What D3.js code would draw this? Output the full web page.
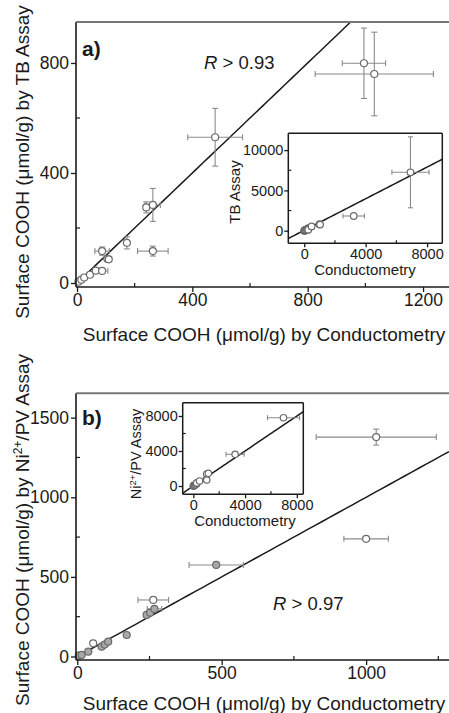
<!DOCTYPE html>
<html><head><meta charset="utf-8">
<script src="https://cdn.jsdelivr.net/npm/d3@7"></script>
<style>
html,body{margin:0;padding:0;background:#fff;}
svg{display:block;font-family:"Liberation Sans",Arial,sans-serif;}
</style></head>
<body>
<svg id="c" width="449" height="713"></svg>
<script>
// ---------- DATA ----------
// Panel a: conductometry (x) vs TB assay (y), µmol/g
const aX    = [5, 15, 25, 45, 65, 87, 87, 105, 110, 173, 240, 263, 263, 479, 995, 1031];
const aY    = [5, 12, 20, 30, 45, 44, 116, 88, 86, 146, 275, 284, 116, 530, 799, 760];
const aXErr = [0, 0, 0, 0, 0, 20, 25, 8, 10, 0, 0, 26, 53, 95, 75, 205];
const aYErr = [0, 0, 0, 0, 0, 0, 15, 6, 6, 22, 20, 60, 18, 105, 128, 152];
// inset a extra (large) samples
const aInsX    = [3222, 6917];
const aInsY    = [1824, 7245];
const aInsXErr = [700, 1210];
const aInsYErr = [0, 4400];
const aFitSlope = 1.0, aFitIntercept = 0;
const aInsFitSlope = 0.98, aInsFitIntercept = 50;

// Panel b: conductometry (x) vs Ni2+/PV assay (y)
const bX    = [5, 15, 38, 55, 84, 95, 107, 171, 240, 252, 267, 263, 481, 1000, 1035];
const bY    = [5, 10, 30, 83, 62, 75, 93, 135, 261, 275, 299, 355, 575, 739, 1378];
const bXErr = [0, 0, 0, 0, 0, 0, 0, 0, 0, 0, 25, 53, 94, 77, 208];
const bYErr = [0, 0, 0, 0, 0, 0, 0, 0, 0, 0, 0, 0, 0, 0, 50];
const bMarker = ["filled","filled","filled","open","filled","filled","filled","filled","filled","filled","filled","open","filled","open","open"];
const bInsX    = [1040, 1160, 3230, 6970];
const bInsY    = [686, 1451, 3623, 7806];
const bInsXErr = [0, 0, 700, 1240];
const bFitSlope = 1.0, bFitIntercept = 0;

// tick labels
const aXTicks = [0, 400, 800, 1200], aXMinor = [200, 600, 1000];
const aYTicks = [0, 400, 800], aYMinor = [200, 600];
const aInsXTicks = [0, 4000, 8000], aInsXMinor = [2000, 6000];
const aInsYTicks = [0, 5000, 10000], aInsYMinor = [2500, 7500];
const bXTicks = [0, 500, 1000], bXMinor = [250, 750, 1250];
const bYTicks = [0, 500, 1000, 1500], bYMinor = [250, 750, 1250];
const bInsXTicks = [0, 4000, 8000], bInsXMinor = [2000, 6000];
const bInsYTicks = [0, 4000, 8000], bInsYMinor = [2000, 6000];

// ---------- DRAW ----------
const svg = d3.select("#c");
svg.append("rect").attr("width",449).attr("height",713).attr("fill","#fff");
const AX = "#1a1a1a", EB = "#8a8a8a", PT = "#6a6a6a";

function axes(g, x, y, o) {
  const [x0, x1] = x.range(), [y0, y1] = y.range();
  const la = d3.axisLeft(y).tickValues(o.yt).tickSize(o.tl).tickPadding(o.pad).tickFormat(d3.format("d"));
  const ba = d3.axisBottom(x).tickValues(o.xt).tickSize(o.tl).tickPadding(o.pad).tickFormat(d3.format("d"));
  const gl = g.append("g").attr("transform",`translate(${x0},0)`).call(la);
  const gb = g.append("g").attr("transform",`translate(0,${y0})`).call(ba);
  [gl, gb].forEach(a => {
    a.select(".domain").remove();
    a.selectAll("line").attr("stroke",AX).attr("stroke-width",1.3);
    a.selectAll("text").attr("fill",AX).attr("font-size",o.fs).attr("font-family","Liberation Sans, Arial, sans-serif");
  });
  g.append("g").selectAll("line").data(o.ym).join("line")
    .attr("x1",x0).attr("x2",x0+o.ml).attr("y1",d=>y(d)).attr("y2",d=>y(d))
    .attr("stroke",AX).attr("stroke-width",1.2);
  g.append("g").selectAll("line").data(o.xm).join("line")
    .attr("x1",d=>x(d)).attr("x2",d=>x(d)).attr("y1",y0).attr("y2",y0-o.ml)
    .attr("stroke",AX).attr("stroke-width",1.2);
  g.append("line").attr("x1",x0).attr("x2",x0).attr("y1",y0).attr("y2",y1).attr("stroke",AX).attr("stroke-width",o.lw);
  g.append("line").attr("x1",x0).attr("x2",x1).attr("y1",y0).attr("y2",y0).attr("stroke",AX).attr("stroke-width",o.lw);
  if (o.box) {
    g.append("line").attr("x1",x1).attr("x2",x1).attr("y1",y0).attr("y2",y1).attr("stroke",AX).attr("stroke-width",o.lw);
    g.append("line").attr("x1",x0).attr("x2",x1).attr("y1",y1).attr("y2",y1).attr("stroke",AX).attr("stroke-width",o.lw);
  } else {
    g.append("line").attr("x1",x0).attr("x2",x1).attr("y1",y1).attr("y2",y1).attr("stroke","#777").attr("stroke-width",2);
  }
}

function fitLine(g, x, y, slope, icpt, clipId) {
  const [xa, xb] = x.domain();
  const pts = d3.range(0, 51).map(i => xa + (xb - xa) * i / 50).map(v => [v, slope * v + icpt]);
  g.append("path").datum(pts).attr("clip-path",`url(#${clipId})`)
    .attr("d", d3.line().x(d=>x(d[0])).y(d=>y(d[1])))
    .attr("fill","none").attr("stroke",AX).attr("stroke-width",1.5);
}

function points(g, x, y, xs, ys, xe, ye, r, cap, fills) {
  const data = xs.map((v,i)=>({x:v, y:ys[i], xe:xe[i]||0, ye:ye[i]||0, f: fills ? fills[i] : "open"}));
  const eg = g.append("g").attr("stroke",EB).attr("stroke-width",1.1);
  data.forEach(d => {
    if (d.xe > 0) {
      eg.append("line").attr("x1",x(d.x-d.xe)).attr("x2",x(d.x+d.xe)).attr("y1",y(d.y)).attr("y2",y(d.y));
      [d.x-d.xe, d.x+d.xe].forEach(v => eg.append("line").attr("x1",x(v)).attr("x2",x(v)).attr("y1",y(d.y)-cap).attr("y2",y(d.y)+cap));
    }
    if (d.ye > 0) {
      eg.append("line").attr("x1",x(d.x)).attr("x2",x(d.x)).attr("y1",y(d.y-d.ye)).attr("y2",y(d.y+d.ye));
      [d.y-d.ye, d.y+d.ye].forEach(v => eg.append("line").attr("x1",x(d.x)-cap).attr("x2",x(d.x)+cap).attr("y1",y(v)).attr("y2",y(v)));
    }
  });
  g.append("g").selectAll("circle").data(data).join("circle")
    .attr("cx",d=>x(d.x)).attr("cy",d=>y(d.y)).attr("r",r)
    .attr("fill",d=>d.f==="filled" ? "#a8a8a8" : "#fff")
    .attr("stroke",PT).attr("stroke-width",1.2);
}

const defs = svg.append("defs");
function clip(id, x, y) {
  const [x0,x1]=x.range(), [y0,y1]=y.range();
  defs.append("clipPath").attr("id",id).append("rect").attr("x",x0).attr("y",y1).attr("width",x1-x0).attr("height",y0-y1);
}

// ===== Panel a =====
{
  const x = d3.scaleLinear().domain([-3.5, 1290]).range([76, 449]);
  const y = d3.scaleLinear().domain([-14.5, 949]).range([287, 22]);
  const g = svg.append("g");
  clip("ca", x, y);
  fitLine(g, x, y, aFitSlope, aFitIntercept, "ca");
  points(g, x, y, aX, aY, aXErr, aYErr, 3.5, 3);
  axes(g, x, y, {xt:aXTicks, xm:aXMinor, yt:aYTicks, ym:aYMinor, fs:17.5, tl:5, ml:4, lw:1.6, pad:2});
  g.append("text").attr("x",82).attr("y",56).attr("font-size",21).attr("font-weight","bold").attr("fill",AX).text("a)");
  const t = g.append("text").attr("x",204).attr("y",69).attr("font-size",18.5).attr("fill",AX);
  t.append("tspan").attr("font-style","italic").text("R");
  t.append("tspan").text(" > 0.93");
  g.append("text").attr("x",264).attr("y",341).attr("text-anchor","middle").attr("font-size",19).attr("fill",AX)
    .text("Surface COOH (μmol/g) by Conductometry");
  g.append("text").attr("transform","translate(29,162) rotate(-90)").attr("text-anchor","middle").attr("font-size",19).attr("fill",AX)
    .text("Surface COOH (μmol/g) by TB Assay");

  // inset a
  const xi = d3.scaleLinear().domain([-1037, 8990]).range([288.3, 442.3]);
  const yi = d3.scaleLinear().domain([-1563, 12084]).range([243.3, 133.3]);
  const gi = svg.append("g");
  gi.append("rect").attr("x",288.3).attr("y",133.3).attr("width",154).attr("height",110).attr("fill","#fff");
  clip("cai", xi, yi);
  fitLine(gi, xi, yi, aInsFitSlope, aInsFitIntercept, "cai");
  points(gi, xi, yi, aX.concat(aInsX), aY.concat(aInsY), aXErr.map(()=>0).concat(aInsXErr), aYErr.map(()=>0).concat(aInsYErr), 3.3, 2.5);
  axes(gi, xi, yi, {xt:aInsXTicks, xm:aInsXMinor, yt:aInsYTicks, ym:aInsYMinor, fs:14.5, tl:4, ml:3, lw:1.5, box:true, pad:1});
  gi.append("text").attr("x",365).attr("y",275).attr("text-anchor","middle").attr("font-size",15).attr("fill",AX).text("Conductometry");
  gi.append("text").attr("transform","translate(240,192) rotate(-90)").attr("text-anchor","middle").attr("font-size",15).attr("fill",AX).text("TB Assay");
}

// ===== Panel b =====
{
  const x = d3.scaleLinear().domain([-4.5, 1287]).range([76, 449]);
  const y = d3.scaleLinear().domain([-22, 1653]).range([660, 393.3]);
  const g = svg.append("g");
  clip("cb", x, y);
  fitLine(g, x, y, bFitSlope, bFitIntercept, "cb");
  points(g, x, y, bX, bY, bXErr, bYErr, 3.5, 3, bMarker);
  axes(g, x, y, {xt:bXTicks, xm:bXMinor, yt:bYTicks, ym:bYMinor, fs:17.5, tl:5, ml:4, lw:1.6, pad:2});
  g.append("text").attr("x",82).attr("y",425).attr("font-size",21).attr("font-weight","bold").attr("fill",AX).text("b)");
  const t = g.append("text").attr("x",273).attr("y",610).attr("font-size",18.5).attr("fill",AX);
  t.append("tspan").attr("font-style","italic").text("R");
  t.append("tspan").text(" > 0.97");
  g.append("text").attr("x",264).attr("y",710).attr("text-anchor","middle").attr("font-size",19).attr("fill",AX)
    .text("Surface COOH (μmol/g) by Conductometry");
  const yt = g.append("text").attr("transform","translate(29,530) rotate(-90)").attr("text-anchor","middle").attr("font-size",19).attr("fill",AX);
  yt.append("tspan").text("Surface COOH (μmol/g) by Ni");
  yt.append("tspan").attr("baseline-shift","super").attr("font-size",12).text("2+");
  yt.append("tspan").text("/PV Assay");

  // inset b
  const xi = d3.scaleLinear().domain([-820, 8500]).range([182.7, 303.3]);
  const yi = d3.scaleLinear().domain([-949, 9520]).range([494.3, 402.7]);
  const gi = svg.append("g");
  gi.append("rect").attr("x",182.7).attr("y",402.7).attr("width",120.6).attr("height",91.6).attr("fill","#fff");
  clip("cbi", xi, yi);
  fitLine(gi, xi, yi, bFitSlope, bFitIntercept, "cbi");
  points(gi, xi, yi, bX.concat(bInsX), bY.concat(bInsY), bX.map(()=>0).concat(bInsXErr), bX.map(()=>0).concat(bInsX.map(()=>0)), 3.2, 2.5);
  axes(gi, xi, yi, {xt:bInsXTicks, xm:bInsXMinor, yt:bInsYTicks, ym:bInsYMinor, fs:14.5, tl:4, ml:3, lw:1.5, box:true, pad:1});
  gi.append("text").attr("x",245).attr("y",526).attr("text-anchor","middle").attr("font-size",15).attr("fill",AX).text("Conductometry");
  const it = gi.append("text").attr("transform","translate(141,454) rotate(-90)").attr("text-anchor","middle").attr("font-size",14.5).attr("fill",AX);
  it.append("tspan").text("Ni");
  it.append("tspan").attr("baseline-shift","super").attr("font-size",9.5).text("2+");
  it.append("tspan").text("/PV Assay");
}
</script>
</body></html>
